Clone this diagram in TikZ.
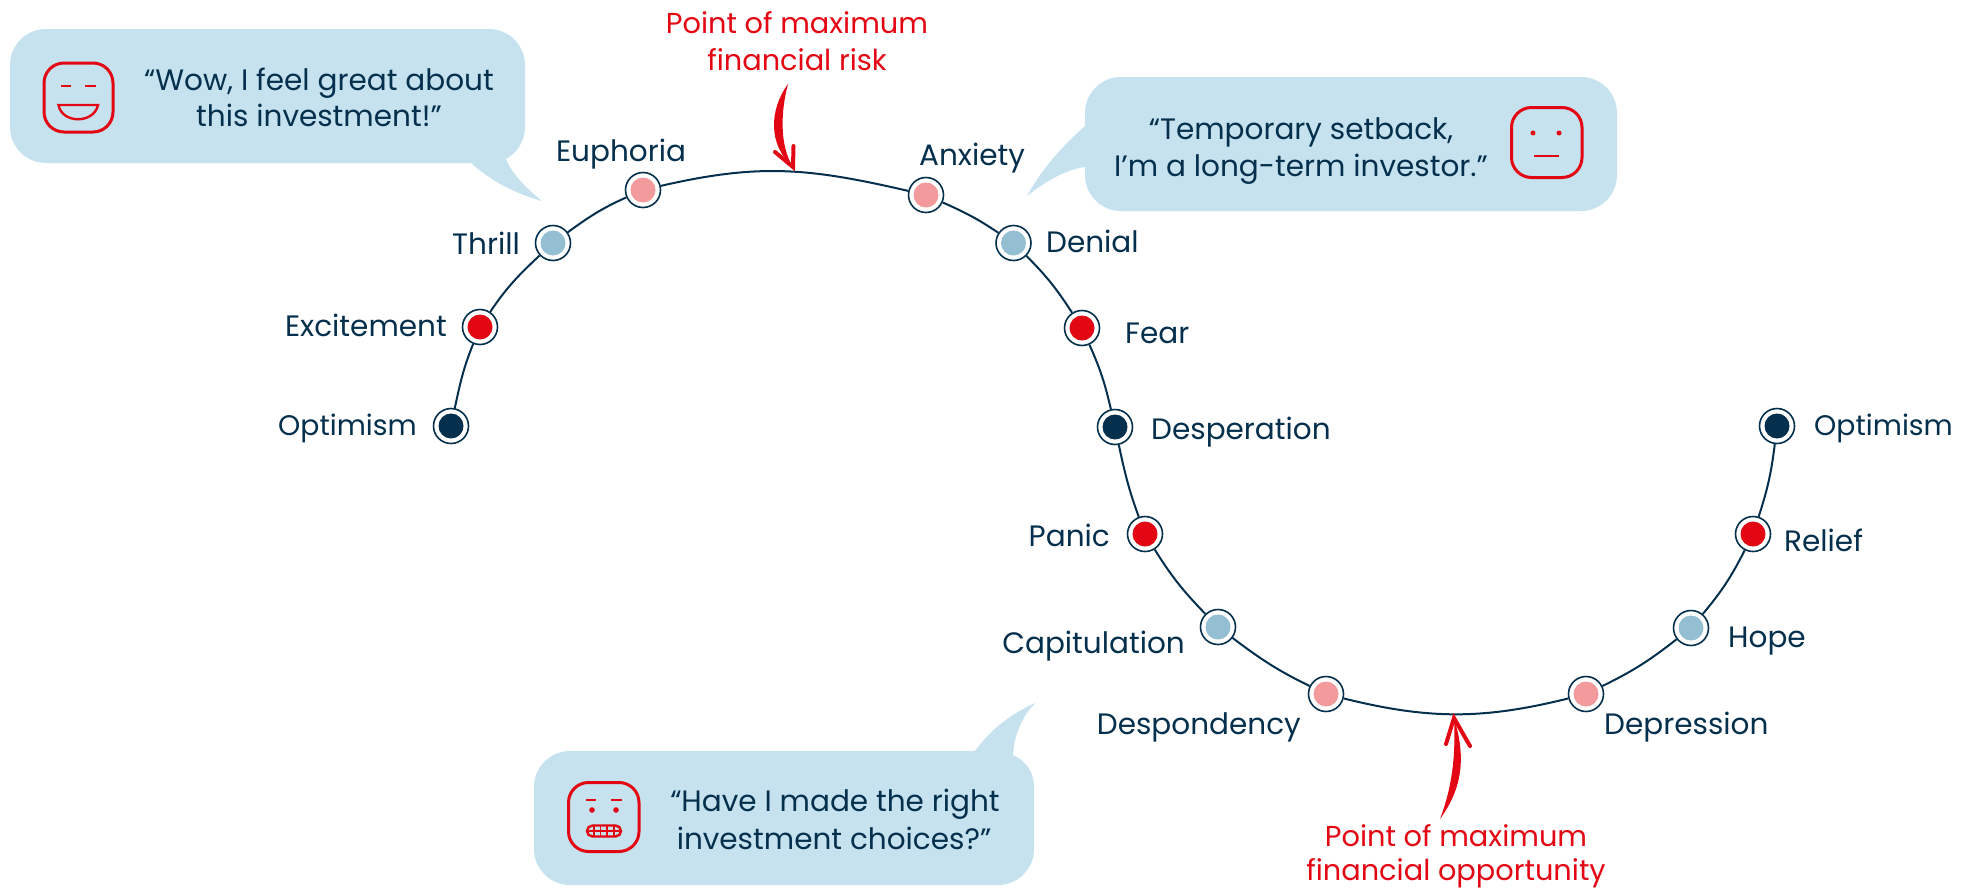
\documentclass[tikz,border=0pt]{standalone}
\usepackage{fontspec}
\setmainfont{Poppins}
\definecolor{navy}{HTML}{05304D}
\definecolor{rd}{HTML}{E30613}
\definecolor{pk}{HTML}{F39A9C}
\definecolor{lb}{HTML}{94BFD2}
\definecolor{bub}{HTML}{C5E2EE}
\tikzset{
 x=1pt,y=1pt,
 ring/.style={circle,draw=navy,line width=1.6pt,fill=white,minimum size=35pt,inner sep=0pt},
 dn/.style={ring,path picture={\fill[#1] (path picture bounding box.center) circle (12.5pt);}},
 lab/.style={anchor=base,text=navy,font=\fontsize{29.5}{34}\selectfont,inner sep=0pt},
 small lab/.style={lab,font=\fontsize{28.3}{34}\selectfont},
 red lab/.style={anchor=base,text=rd,font=\fontsize{28.8}{34}\selectfont,inner sep=0pt},
 curve/.style={draw=navy,line width=2pt},
 bubble/.style={fill=bub},
 facebox/.style={draw=rd,line width=3pt,rounded corners=20pt},
 facebit/.style={draw=rd,line width=2.4pt},
 barb/.style={draw=rd,line width=4pt,line cap=round},
}
\begin{document}
\begin{tikzpicture}
\useasboundingbox (0,0) rectangle (1962,-889);
% bubbles
\fill[bubble] (46,-29) -- (489,-29) arc[start angle=90,end angle=0,radius=36] -- (525,-127)
  .. controls (525,-141) and (517,-153) .. (506,-159)
  .. controls (512,-174) and (526,-188) .. (542,-201)
  .. controls (516,-194) and (491,-181) .. (471,-163)
  -- (46,-163) arc[start angle=270,end angle=180,radius=36] -- (10,-65) arc[start angle=180,end angle=90,radius=36] -- cycle;
\fill[bubble] (1121,-77) -- (1581,-77) arc[start angle=90,end angle=0,radius=36] -- (1617,-175)
  arc[start angle=0,end angle=-90,radius=36] -- (1121,-211) arc[start angle=270,end angle=180,radius=36] -- (1085,-167)
  .. controls (1064,-170) and (1045,-182) .. (1027,-196)
  .. controls (1040,-172) and (1060,-148) .. (1085,-126) -- (1085,-113) arc[start angle=180,end angle=90,radius=36] -- cycle;
\fill[bubble] (570,-751) -- (975,-751)
  .. controls (991,-729) and (1012,-713) .. (1035.5,-703)
  .. controls (1022,-716) and (1014,-735) .. (1013,-755)
  .. controls (1026,-761) and (1034,-772) .. (1034,-787)
  -- (1034,-849) arc[start angle=0,end angle=-90,radius=36] -- (570,-885) arc[start angle=270,end angle=180,radius=36] -- (534,-787) arc[start angle=180,end angle=90,radius=36] -- cycle;
% faces
\draw[facebox] (44,-63) rectangle (113,-132);
\draw[facebit] (61,-86) -- (71,-86) (85,-86) -- (96,-86);
\draw[facebit] (58.5,-105) -- (98,-105) .. controls (94,-124) and (62,-124) .. (58.5,-105) -- cycle;
\draw[facebox] (1511.5,-107.5) rectangle (1582,-177.5);
\fill[rd] (1533,-133) circle (2.5) (1559,-133) circle (2.5);
\draw[facebit] (1534,-156) -- (1559,-156);
\draw[facebox] (568.5,-782.5) rectangle (639,-851.5);
\draw[facebit] (586,-800) -- (596,-800) (611,-800) -- (622,-800);
\fill[rd] (592,-810) circle (2.8) (616,-810) circle (2.8);
\draw[facebit,rounded corners=5.5pt] (587,-825.5) rectangle (621,-836.5);
\draw[rd,line width=1.4pt] (587,-831) -- (621,-831) (594,-825.5) -- (594,-836.5) (600.5,-825.5) -- (600.5,-836.5) (607,-825.5) -- (607,-836.5) (614,-825.5) -- (614,-836.5);
% nodes
\node[dn=navy] (o1) at (451,-426) {};
\node[dn=rd] (exc) at (480,-327) {};
\node[dn=lb] (thr) at (553,-243) {};
\node[dn=pk] (eup) at (643,-190) {};
\node[dn=pk] (anx) at (926,-195) {};
\node[dn=lb] (den) at (1013.5,-243) {};
\node[dn=rd] (fear) at (1082,-328) {};
\node[dn=navy] (des) at (1115,-427) {};
\node[dn=rd] (pan) at (1145,-534) {};
\node[dn=lb] (cap) at (1218,-627) {};
\node[dn=pk] (dsp) at (1326,-694) {};
\node[dn=pk] (dep) at (1586,-694) {};
\node[dn=lb] (hop) at (1691,-628) {};
\node[dn=rd] (rel) at (1753,-534) {};
\node[dn=navy] (o2) at (1777,-426) {};
% connectors
\begin{scope}[curve]
\draw (o1) to[out=78,in=248] (exc);
\draw (exc) to[out=56,in=223] (thr);
\draw (thr) to[out=36,in=204] (eup);
\draw (eup) to[out=13,in=167,looseness=1.05] (anx);
\draw (anx) to[out=-24,in=146] (den);
\draw (den) to[out=-45,in=123] (fear);
\draw (fear) to[out=-66,in=103] (des);
\draw (des) to[out=-78,in=110] (pan);
\draw (pan) to[out=-58,in=134] (cap);
\draw (cap) to[out=-37,in=154] (dsp);
\draw (dsp) to[out=-14,in=194] (dep);
\draw (dep) to[out=26,in=218] (hop);
\draw (hop) to[out=50,in=243] (rel);
\draw (rel) to[out=72,in=263] (o2);
\end{scope}
% labels
\node[small lab,anchor=base east] (lo1) at (417,-435) {Optimism};
\node[lab,anchor=base east] (lexc) at (447,-336) {Excitement};
\node[lab,anchor=base east] (lthr) at (520,-254) {Thrill};
\node[lab] (leup) at (621,-161) {Euphoria};
\node[lab] (lanx) at (972,-165) {Anxiety};
\node[lab,anchor=base west] (lden) at (1046,-252) {Denial};
\node[lab,anchor=base west] (lfear) at (1125,-343) {Fear};
\node[lab,anchor=base west] (ldes) at (1151,-439) {Desperation};
\node[lab,anchor=base east] (lpan) at (1110,-546) {Panic};
\node[lab,anchor=base east] (lcap) at (1185,-653) {Capitulation};
\node[lab,anchor=base east] (ldsp) at (1301,-734) {Despondency};
\node[lab,anchor=base west] (ldep) at (1604,-734) {Depression};
\node[lab,anchor=base west] (lhop) at (1728,-647) {Hope};
\node[lab,anchor=base west] (lrel) at (1784,-551) {Relief};
\node[small lab,anchor=base west] (lo2) at (1814,-435) {Optimism};
% bubble text
\node[lab] (b1a) at (319,-90) {“Wow, I feel great about};
\node[lab] (b1b) at (319,-126) {this investment!”};
\node[lab] (b2a) at (1301,-139) {“Temporary setback,};
\node[lab] (b2b) at (1301,-176) {I’m a long-term investor.”};
\node[lab] (b3a) at (835,-811) {“Have I made the right};
\node[lab] (b3b) at (834,-849) {investment choices?”};
% red labels
\node[red lab] (r1a) at (797,-33) {Point of maximum};
\node[red lab] (r1b) at (797,-70) {financial risk};
\node[red lab] (r2a) at (1456,-846) {Point of maximum};
\node[red lab] (r2b) at (1456,-880) {financial opportunity};
% arrows
\coordinate (a1s) at (788,-84);
\coordinate (a1t) at (793,-167);
\fill[rd] (a1s) .. controls (769,-110) and (768,-145) .. (a1t)
  .. controls (779,-145) and (781,-110) .. (a1s) -- cycle;
\draw[barb] (775,-152) -- (a1t) -- (793.5,-146);
\coordinate (a2s) at (1440,-819);
\coordinate (a2t) at (1454,-718);
\fill[rd] (a2s) .. controls (1461,-790) and (1467,-760) .. (a2t)
  .. controls (1456,-760) and (1451,-790) .. (a2s) -- cycle;
\draw[barb] (1446,-744) -- (a2t) -- (1470,-746);
\end{tikzpicture}
\end{document}
